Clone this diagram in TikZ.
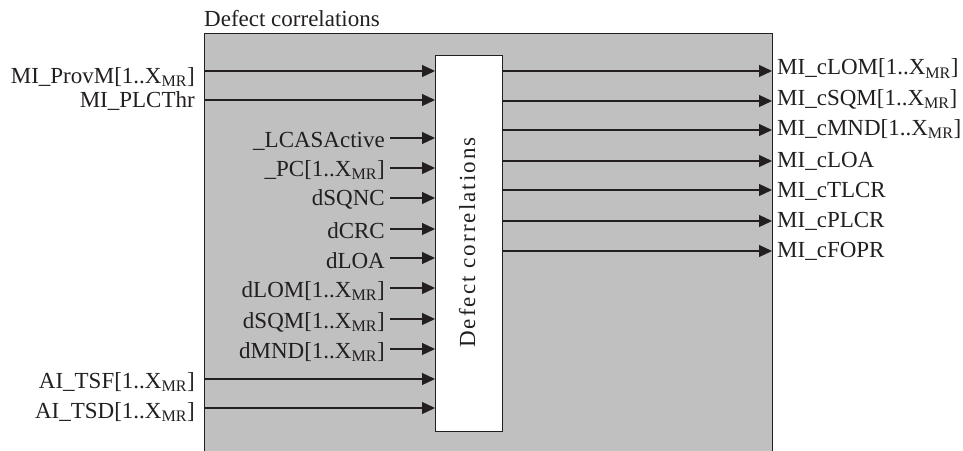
\documentclass[tikz,border=0pt]{standalone}
\usepackage{fontspec}
\setmainfont{Liberation Serif}
\usetikzlibrary{arrows.meta}
\definecolor{panel}{RGB}{192,192,192}
\definecolor{ink}{RGB}{35,31,32}
\newcommand\xmr{X\textsubscript{MR}}
\begin{document}
\begin{tikzpicture}[x=1pt,y=-1pt,
  arr/.style={line width=1.2pt, draw=ink, -{Triangle[length=13pt,width=12pt]}},
  lbl/.style={inner sep=0pt, font=\fontsize{23}{27}\selectfont, text=ink},
  blk/.style={draw=ink, line width=1.2pt, inner sep=0pt, anchor=north west},
]
\useasboundingbox (0,0) rectangle (963,450);
\clip (0,0) rectangle (963,450);
\node[blk, fill=panel, minimum width=568pt, minimum height=440pt] (frame) at (204,33) {};
\node[blk, fill=white, minimum width=67pt, minimum height=376pt] (box) at (435,55) {};
\node[lbl, rotate=90, anchor=base] (vt) at (475,242.5)
  {\addfontfeature{LetterSpace=9}Defect correlations};
\node[lbl, anchor=base west] (title) at (204,26.5) {Defect correlations};
% outer inputs
\foreach \n/\y/\b/\t in {i1/71/83/{MI\_ProvM[1..\xmr]}, i2/100/107/{MI\_PLCThr},
    i11/379/388/{AI\_TSF[1..\xmr]}, i12/408/418/{AI\_TSD[1..\xmr]}}{
  \node[lbl, anchor=base east] (l\n) at (195,\b) {\t};
  \coordinate (\n) at (204,\y);
  \draw[arr] (\n) -- (box.west |- \n);
}
% inner inputs
\foreach \n/\y/\b/\t in {i3/138/147/{\_LCASActive}, i4/168/176/{\_PC[1..\xmr]},
    i5/198/205/{dSQNC}, i6/229/238/{dCRC}, i7/258/268/{dLOA},
    i8/288/297/{dLOM[1..\xmr]}, i9/319/328/{dSQM[1..\xmr]}, i10/349/358/{dMND[1..\xmr]}}{
  \node[lbl, anchor=base east] (l\n) at (385,\b) {\t};
  \coordinate (\n) at (390,\y);
  \draw[arr] (\n) -- (box.west |- \n);
}
% outputs
\foreach \n/\y/\b/\t in {o1/71/74.5/{MI\_cLOM[1..\xmr]}, o2/101/105/{MI\_cSQM[1..\xmr]},
    o3/130/135/{MI\_cMND[1..\xmr]}, o4/161/167/{MI\_cLOA}, o5/190/197/{MI\_cTLCR},
    o6/221/227/{MI\_cPLCR}, o7/251/257/{MI\_cFOPR}}{
  \coordinate (\n) at (772,\y);
  \node[lbl, anchor=base west] (l\n) at (777,\b) {\t};
  \draw[arr] (box.east |- \n) -- (\n);
}
\end{tikzpicture}
\end{document}
